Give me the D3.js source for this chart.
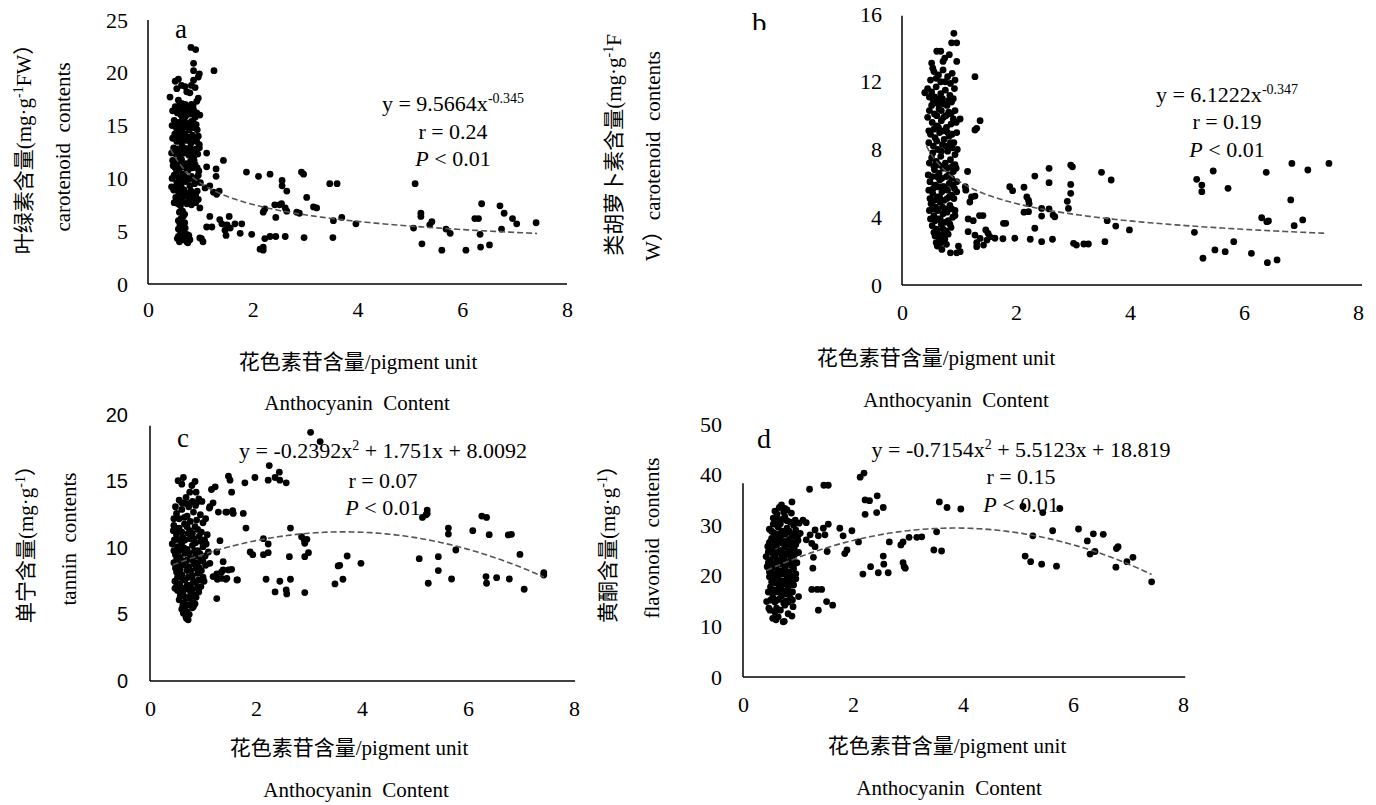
<!DOCTYPE html>
<html><head><meta charset="utf-8">
<script src="https://cdn.jsdelivr.net/npm/d3@7"></script>
<style>
html,body{margin:0;padding:0;background:#fff;}
svg{display:block;}
</style></head>
<body>
<svg id="chart" width="1376" height="805"></svg>
<script>
// ---------------- DATA ----------------
const xTickValues = [0, 2, 4, 6, 8];
const yTicksA = [0, 5, 10, 15, 20, 25];
const yTicksB = [0, 4, 8, 12, 16];
const yTicksC = [0, 5, 10, 15, 20];
const yTicksD = [0, 10, 20, 30, 40, 50];

// panel a: anthocyanin (x) vs chlorophyll/carotenoid (y)
const pointsA = [
[0.52,16.8],[0.60,16.9],[0.68,16.6],[0.77,16.8],[0.56,16.2],[0.63,16.0],[0.72,15.9],[0.81,16.1],[0.90,15.8],
[0.50,15.5],[0.58,15.3],[0.66,15.6],[0.74,15.2],[0.83,15.4],[0.92,15.1],[0.54,14.8],[0.62,14.7],[0.70,14.9],[0.79,14.6],[0.88,14.8],
[0.51,14.2],[0.59,14.0],[0.67,14.3],[0.76,13.9],[0.85,14.1],[0.96,14.0],[0.55,13.5],[0.64,13.4],[0.73,13.6],[0.82,13.3],[0.93,13.5],
[0.49,12.9],[0.57,12.8],[0.65,13.0],[0.71,12.6],[0.80,12.9],[0.89,12.7],[0.98,12.9],[0.53,12.3],[0.61,12.1],[0.69,12.4],[0.78,12.2],[0.87,12.0],[0.95,12.3],
[0.47,11.7],[0.56,11.6],[0.64,11.8],[0.72,11.4],[0.81,11.6],[0.90,11.3],[0.52,11.0],[0.60,10.9],[0.68,11.1],[0.77,10.8],[0.86,11.0],[0.97,10.7],
[0.50,10.3],[0.58,10.1],[0.66,10.4],[0.74,10.0],[0.83,10.2],[0.92,9.9],[0.55,9.6],[0.63,9.4],[0.71,9.7],[0.80,9.3],[0.89,9.5],[1.00,9.6],
[0.49,8.9],[0.57,8.8],[0.65,9.0],[0.73,8.6],[0.82,8.8],[0.91,8.5],[0.53,8.2],[0.61,8.0],[0.69,8.3],[0.78,7.9],[0.87,8.1],[0.96,8.0],
[0.62,7.4],[0.66,6.9],[0.63,6.2],[0.70,5.8],[0.58,5.2],[0.68,4.9],[0.74,4.7],
[0.56,4.3],[0.60,4.0],[0.66,4.2],[0.72,4.4],[0.76,3.9],[0.63,4.6],[0.80,4.2],
[0.47,16.4],[0.55,16.5],[0.64,16.4],[0.72,16.3],[0.80,16.5],[0.86,16.9],
[0.46,15.0],[0.54,15.1],[0.62,15.2],[0.70,15.4],[0.78,15.0],[0.86,15.3],[0.94,14.6],
[0.47,13.8],[0.55,14.4],[0.63,13.8],[0.71,14.2],[0.80,13.8],[0.89,13.6],[0.98,13.2],
[0.45,12.4],[0.53,12.6],[0.61,12.5],[0.69,12.9],[0.75,12.6],[0.84,12.5],[0.92,12.8],
[0.48,11.2],[0.56,11.3],[0.64,11.2],[0.72,11.0],[0.79,11.2],[0.88,11.7],[0.94,11.0],
[0.46,10.0],[0.54,10.5],[0.62,9.9],[0.70,10.2],[0.78,9.9],[0.87,10.0],[0.96,10.3],
[0.45,9.2],[0.53,9.2],[0.61,8.6],[0.69,8.9],[0.77,8.4],[0.85,8.5],[0.94,8.8],
[0.50,7.7],[0.57,7.6],[0.66,7.8],[0.74,7.6],[0.83,7.5],[0.91,7.7],
[0.60,6.8],[0.70,6.6],[0.58,6.0],[0.67,5.6],[0.62,5.0],[0.70,4.3],[0.78,4.6],
[0.82,22.4],[0.91,22.2],[0.87,20.9],[0.87,20.2],[0.98,19.9],[0.96,19.6],[0.87,19.3],[0.83,18.8],[0.90,18.6],
[0.58,19.4],[0.52,19.2],[0.55,18.5],[0.64,18.8],[0.71,18.7],[0.74,18.2],[0.80,18.1],[0.42,17.7],[0.96,17.6],[0.93,17.3],
[0.58,17.4],[0.64,17.1],[0.71,17.0],[0.83,17.0],[0.61,16.5],[0.74,16.3],[0.87,16.5],[0.93,16.2],[0.99,16.0],
[1.12,12.4],[1.09,9.1],[1.25,8.7],[0.99,7.2],[0.67,6.4],[0.61,5.6],[0.71,5.3],[0.64,4.5],[0.74,4.0],[1.02,4.3],[0.58,4.5],
[1.26,20.2],[1.44,11.7],[1.30,10.9],[1.30,10.2],[1.18,9.3],[1.36,8.8],[1.31,8.5],[1.12,11.1],[0.99,4.36],[1.05,4.0],
[1.18,6.4],[1.12,5.4],[1.22,5.4],[1.37,6.1],[1.41,5.7],[1.55,6.4],[1.47,5.1],[1.51,5.6],[1.57,5.3],[1.66,5.7],[1.79,5.7],[1.76,4.8],[1.49,4.6],[1.98,4.7],
[1.88,10.6],[2.11,10.2],[2.33,10.4],[2.56,9.8],[2.56,9.3],[2.65,8.8],[2.93,10.6],[2.97,10.4],[3.03,8.2],[3.16,7.3],[3.22,7.2],[3.47,9.5],[3.61,9.5],
[2.42,7.5],[2.51,7.5],[2.55,7.6],[2.62,7.2],[2.65,6.9],[2.23,7.1],[2.20,6.8],[2.44,6.3],[2.84,6.8],[2.89,6.7],[3.54,6.0],[3.70,6.3],[3.97,5.7],
[2.14,3.3],[2.20,3.2],[2.20,3.5],[2.23,4.3],[2.33,4.5],[2.44,4.5],[2.62,4.5],[2.98,4.4],[3.53,4.4],
[5.10,9.5],[5.21,6.7],[5.21,6.4],[5.07,5.3],[5.23,3.8],[5.42,5.9],[5.38,5.6],[5.61,3.2],[5.69,5.2],[5.77,4.8],[6.07,3.2],
[6.24,6.2],[6.31,6.2],[6.37,7.6],[6.34,4.7],[6.35,3.5],[6.52,3.7],[6.72,7.4],[6.80,6.7],[6.96,6.2],[7.04,5.7],[6.75,5.2],[7.41,5.8]
];

// panel b: anthocyanin (x) vs carotenoid (y)
const pointsB = [
[0.56,12.6],[0.64,12.4],[0.72,12.7],[0.80,12.3],[0.88,12.5],[0.93,12.1],
[0.45,11.6],[0.52,11.4],[0.60,11.7],[0.68,11.3],[0.76,11.5],[0.84,11.2],[0.92,11.6],[0.55,10.9],[0.63,10.7],[0.71,11.0],[0.79,10.6],[0.87,10.8],
[0.48,10.3],[0.57,10.1],[0.65,10.4],[0.73,9.9],[0.82,10.2],[0.90,9.8],[0.53,9.6],[0.61,9.4],[0.69,9.7],[0.78,9.3],[0.86,9.5],[0.95,9.6],
[0.50,8.9],[0.58,8.7],[0.66,9.0],[0.74,8.6],[0.83,8.8],[0.91,8.4],[0.55,8.2],[0.63,8.0],[0.71,8.3],[0.80,7.9],[0.88,8.1],[0.97,8.0],
[0.52,7.5],[0.60,7.3],[0.68,7.6],[0.76,7.2],[0.85,7.4],[0.93,7.1],[0.57,6.8],[0.65,6.6],[0.73,6.9],[0.82,6.5],[0.90,6.7],
[0.49,6.1],[0.58,5.9],[0.66,6.2],[0.74,5.8],[0.83,6.0],[0.92,5.7],[0.54,5.4],[0.62,5.2],[0.70,5.5],[0.79,5.1],[0.87,5.3],[0.96,5.5],
[0.51,4.8],[0.59,4.6],[0.67,4.9],[0.75,4.5],[0.84,4.7],[0.93,4.4],[0.56,4.1],[0.64,3.9],[0.72,4.2],[0.81,3.8],[0.89,4.0],
[0.53,3.5],[0.61,3.3],[0.69,3.6],[0.77,3.2],[0.86,3.4],[0.58,2.9],[0.66,2.7],[0.74,3.0],[0.62,2.3],[0.70,2.1],[0.78,2.4],
[0.50,12.1],[0.60,12.2],[0.68,12.0],[0.76,12.0],[0.85,11.9],
[0.48,11.1],[0.57,11.1],[0.65,11.0],[0.73,10.7],[0.82,10.9],[0.90,11.0],
[0.45,9.9],[0.52,10.6],[0.61,10.0],[0.69,10.3],[0.77,10.0],[0.86,10.1],[0.93,10.3],
[0.47,9.1],[0.56,9.2],[0.64,9.3],[0.72,9.1],[0.80,9.0],[0.88,8.9],[0.96,9.0],
[0.47,8.4],[0.54,7.8],[0.61,8.5],[0.69,7.9],[0.77,8.2],[0.85,8.4],[0.93,7.7],
[0.48,7.2],[0.56,7.0],[0.64,7.1],[0.71,7.0],[0.79,6.9],[0.88,7.0],[0.95,6.9],
[0.46,6.5],[0.53,6.4],[0.61,6.4],[0.70,6.3],[0.78,6.4],[0.87,6.3],[0.96,6.1],
[0.47,5.6],[0.55,5.7],[0.63,5.8],[0.71,5.8],[0.80,5.6],[0.89,5.9],
[0.49,5.1],[0.57,5.0],[0.66,5.2],[0.74,5.0],[0.83,5.2],[0.91,5.1],
[0.48,4.4],[0.55,4.5],[0.63,4.4],[0.71,4.6],[0.79,4.3],[0.87,4.5],
[0.50,3.9],[0.58,3.8],[0.67,3.9],[0.75,3.7],[0.84,3.6],
[0.56,3.1],[0.64,3.0],[0.72,3.3],[0.81,3.0],[0.60,2.5],[0.68,2.5],[0.75,2.7],
[0.91,14.86],[0.87,14.3],[0.96,14.3],[0.61,13.8],[0.68,13.8],[0.83,13.6],[0.75,13.4],[0.72,13.2],[0.96,13.2],[0.52,13.1],[0.54,12.8],
[1.28,12.3],[0.40,11.35],[1.37,9.7],[1.31,9.25],[1.28,9.15],[1.02,9.8],[1.15,6.7],[1.11,5.8],[1.12,5.6],[1.22,5.2],[1.19,4.9],[1.28,5.25],
[0.93,4.1],[0.85,1.9],[0.99,2.3],[1.02,1.97],[0.96,1.9],[1.16,3.9],[1.25,3.8],[1.36,4.1],[1.42,4.1],
[1.16,3.15],[1.28,2.95],[1.37,2.75],[1.47,3.25],[1.51,3.05],[1.54,2.85],[1.49,2.65],[1.31,2.26],[1.43,2.36],[1.31,2.5],[1.63,2.76],
[1.78,3.64],[1.82,3.64],[1.77,2.73],[1.98,2.76],[2.25,2.7],[2.45,2.56],[2.64,2.7],
[1.89,5.8],[1.94,5.57],[2.14,5.77],[2.19,5.2],[2.22,5.0],[2.23,4.8],[2.14,4.3],[2.22,4.33],
[2.33,6.43],[2.58,6.89],[2.58,6.04],[2.96,7.08],[2.99,6.98],[2.96,5.94],[2.96,5.41],[2.90,4.94],[2.92,4.52],[2.45,4.52],[2.45,4.07],[2.58,4.49],[2.65,4.13],[2.68,4.03],[2.33,3.35],
[3.01,2.46],[3.06,2.36],[3.19,2.42],[3.27,2.42],[3.56,2.56],[3.50,6.65],[3.67,6.2],[3.60,3.8],[3.75,3.48],[3.99,3.25],
[5.13,3.11],[5.17,6.24],[5.26,5.9],[5.26,5.51],[5.28,1.58],[5.46,6.73],[5.49,2.07],[5.67,1.97],[5.72,5.71],[5.82,2.56],[6.13,1.87],
[6.31,3.97],[6.39,6.65],[6.40,3.74],[6.43,3.78],[6.41,1.32],[6.58,1.48],[6.82,5.02],[6.84,7.18],[6.88,3.5],[7.03,3.84],[7.12,6.79],[7.49,7.18]
];

// panel c: anthocyanin (x) vs tannin (y)
const pointsC = [
[0.55,13.6],[0.68,13.8],[0.80,13.5],[0.92,13.7],
[0.50,12.6],[0.60,12.9],[0.70,12.4],[0.82,12.7],[0.95,12.5],[1.05,12.2],
[0.45,11.7],[0.55,11.5],[0.65,11.8],[0.75,11.3],[0.85,11.6],[0.97,11.2],[0.50,11.0],[0.62,10.8],[0.72,11.1],[0.83,10.7],[0.93,10.9],[1.03,10.6],
[0.42,10.3],[0.52,10.1],[0.60,10.4],[0.70,9.9],[0.80,10.2],[0.90,9.8],[1.00,10.1],[1.10,9.7],[0.48,9.5],[0.57,9.3],[0.66,9.6],[0.76,9.2],[0.86,9.4],[0.96,9.1],
[0.45,8.9],[0.54,8.7],[0.63,9.0],[0.73,8.6],[0.83,8.8],[0.93,8.5],[1.05,8.7],[0.50,8.2],[0.60,8.0],[0.70,8.3],[0.80,7.9],[0.90,8.1],[1.00,7.8],
[0.47,7.5],[0.56,7.3],[0.66,7.6],[0.76,7.2],[0.86,7.4],[0.96,7.1],[0.52,6.8],[0.62,6.6],[0.72,6.9],[0.82,6.5],[0.92,6.7],
[0.55,6.1],[0.65,5.9],[0.75,6.2],[0.85,5.8],[0.60,5.4],[0.70,5.2],[0.80,5.5],[0.68,4.8],[0.74,5.0],
[0.48,13.1],[0.60,13.4],[0.73,13.1],[0.86,13.2],
[0.45,12.2],[0.55,12.2],[0.65,12.3],[0.76,12.0],[0.88,12.1],[1.00,11.9],
[0.44,11.3],[0.52,11.4],[0.60,11.2],[0.70,11.6],[0.80,11.1],[0.90,11.4],[1.08,11.0],
[0.46,10.6],[0.56,10.6],[0.66,10.6],[0.76,10.7],[0.86,10.4],[0.96,10.5],[1.06,10.3],
[0.45,9.8],[0.55,9.8],[0.64,10.0],[0.74,9.6],[0.84,9.8],[0.94,9.6],[1.04,9.4],
[0.50,9.1],[0.60,8.8],[0.70,9.1],[0.80,9.1],[0.90,8.9],[1.00,9.0],
[0.48,8.5],[0.57,8.4],[0.67,8.7],[0.77,8.3],[0.87,8.5],[0.97,8.3],
[0.52,7.8],[0.62,7.6],[0.72,7.8],[0.82,7.5],[0.92,7.6],[1.02,7.5],
[0.50,7.1],[0.60,7.0],[0.70,7.2],[0.80,6.9],[0.90,7.0],
[0.57,6.4],[0.67,6.3],[0.77,6.6],[0.87,6.3],[0.62,5.7],[0.72,5.7],[0.82,5.9],[0.66,5.3],[0.72,4.6],
[0.53,15.06],[0.63,15.3],[0.60,14.8],[0.75,14.2],[0.85,15.0],[0.87,14.2],[0.79,14.7],
[0.66,13.36],[0.75,13.36],[0.88,13.4],[0.98,13.5],[1.12,13.0],[1.19,13.4],[1.45,12.7],
[0.47,6.97],[0.60,6.47],[0.63,5.09],[0.69,4.7],[0.82,5.6],[1.45,7.72],[1.54,8.4],[1.38,8.35],[1.35,7.72],[1.64,7.6],[1.19,7.85],[1.13,8.85],
[3.03,18.7],[3.21,18.0],[2.25,16.2],[2.44,15.7],[2.23,15.1],[2.36,15.3],[2.45,15.1],[2.57,14.9],[1.98,15.3],[1.79,14.9],
[1.48,15.4],[1.51,15.1],[1.54,14.2],[1.16,14.4],[1.23,14.6],
[1.13,13.1],[1.29,12.7],[1.43,12.7],[1.56,12.8],[1.57,12.6],[1.76,12.6],[1.81,11.5],[2.65,11.5],
[2.86,10.85],[2.91,10.6],[2.96,10.65],[2.92,10.35],[2.99,9.65],[2.92,9.35],[2.14,10.7],[2.23,10.3],[2.23,9.65],[2.14,9.5],[1.89,9.7],[1.94,9.5],
[1.32,10.55],[1.26,9.7],[1.38,8.97],[1.26,8.05],[1.35,8.2],[1.48,8.35],[1.43,7.65],[1.65,7.6],[1.27,7.65],[1.26,6.2],
[2.19,7.65],[2.45,7.5],[2.65,7.65],[2.36,6.7],[2.57,6.85],[2.58,6.55],[2.92,6.65],[2.63,9.35],
[3.49,7.3],[3.64,7.65],[3.55,8.65],[3.58,8.7],[3.72,9.4],[3.98,8.85],
[5.08,9.2],[5.14,12.3],[5.21,12.5],[5.23,12.85],[5.23,12.6],[5.25,7.35],[5.44,9.35],[5.44,8.3],[5.63,11.5],[5.63,11.05],[5.77,9.85],[5.69,7.67],
[6.09,11.3],[6.26,12.4],[6.35,12.3],[6.40,11.0],[6.34,7.85],[6.35,7.35],[6.54,7.77],[6.78,7.67],[6.76,10.98],[6.82,11.03],[6.98,9.52],[7.06,6.9],[7.43,8.15],[7.43,7.97]
];

// panel d: anthocyanin (x) vs flavonoid (y)
const pointsD = [
[0.58,32.8],[0.66,33.5],[0.80,33.0],[0.64,30.8],[0.72,31.2],[0.86,30.6],[0.95,31.0],
[0.48,29.2],[0.56,28.5],[0.64,29.6],[0.72,28.8],[0.80,29.4],[0.88,28.2],[0.96,29.0],[1.04,28.4],[0.52,27.4],[0.60,27.0],[0.68,27.6],[0.76,26.8],[0.84,27.2],[0.92,26.6],[1.00,27.0],
[0.45,25.8],[0.53,25.2],[0.61,26.0],[0.69,25.0],[0.77,25.6],[0.85,24.8],[0.93,25.4],[1.01,24.6],[0.42,23.8],[0.50,23.2],[0.58,24.0],[0.66,23.0],[0.74,23.6],[0.82,22.8],[0.90,23.4],[0.98,22.6],
[0.44,21.8],[0.52,21.2],[0.60,22.0],[0.68,21.0],[0.76,21.6],[0.84,20.8],[0.92,21.4],[0.48,19.8],[0.56,19.2],[0.64,20.0],[0.72,19.0],[0.80,19.6],[0.88,18.8],[0.96,19.4],
[0.50,17.8],[0.58,17.2],[0.66,18.0],[0.74,17.0],[0.82,17.6],[0.90,16.8],[0.54,15.8],[0.62,15.2],[0.70,16.0],[0.78,15.0],[0.86,15.6],
[0.47,13.6],[0.58,12.8],[0.68,13.2],[0.82,12.5],[0.60,11.3],[0.75,11.0],
[0.62,32.2],[0.74,32.6],[0.88,32.4],[0.55,30.2],[0.68,30.3],[0.80,30.9],[0.92,30.0],[1.02,30.4],
[0.52,28.8],[0.60,28.2],[0.68,28.4],[0.76,28.2],[0.84,28.8],[0.92,27.9],[1.00,28.0],
[0.48,26.6],[0.56,26.4],[0.64,26.8],[0.72,26.4],[0.80,26.2],[0.88,26.0],[0.96,26.2],
[0.46,24.7],[0.54,24.4],[0.62,24.6],[0.70,24.2],[0.78,24.4],[0.86,23.9],[0.94,24.2],
[0.46,22.6],[0.54,22.4],[0.62,23.2],[0.70,22.4],[0.78,22.8],[0.86,22.2],[0.94,22.4],
[0.48,20.8],[0.56,20.4],[0.64,21.0],[0.72,20.4],[0.80,20.6],[0.88,20.0],[0.96,20.4],
[0.52,18.8],[0.60,18.6],[0.68,19.0],[0.76,18.4],[0.84,18.8],[0.92,18.2],
[0.46,16.8],[0.54,16.6],[0.62,16.8],[0.70,17.2],[0.78,16.4],[0.86,16.8],
[0.50,15.2],[0.58,14.8],[0.66,15.4],[0.74,14.6],[0.82,14.8],[0.90,15.2],
[0.43,14.9],[0.49,13.2],[0.54,11.6],[0.64,11.9],[0.73,10.9],[0.89,12.05],[0.61,13.6],[0.76,14.2],[0.91,13.9],[1.01,15.9],
[0.70,34.0],[0.76,33.3],[0.89,34.6],[0.55,31.4],[0.61,31.7],[0.76,31.7],
[2.13,39.5],[2.20,40.3],[1.21,37.1],[1.47,37.9],[1.55,37.9],[2.22,35.0],[2.30,34.85],[2.44,35.8],[2.22,32.15],[2.43,32.5],[2.55,33.5],
[3.57,34.6],[3.71,33.5],[3.96,33.2],[5.09,33.7],[5.45,32.5],[5.76,33.3],
[1.09,31.0],[1.15,30.5],[1.46,29.4],[1.55,30.2],[1.31,29.05],[1.37,27.9],[1.49,28.1],[1.22,28.1],[1.76,29.4],[1.82,27.9],[1.98,28.9],[1.89,25.1],[1.85,24.4],[2.10,26.7],[1.53,24.8],[1.28,23.65],[1.15,27.1],[1.25,26.4],[1.31,25.75],
[2.66,26.7],[2.87,26.1],[2.91,26.7],[3.02,27.6],[3.16,27.6],[3.25,27.7],[3.52,28.7],[3.47,25.1],[3.61,24.9],
[2.55,23.9],[2.56,22.3],[2.46,20.6],[2.64,20.6],[2.32,21.8],[2.18,20.35],[2.91,22.6],[2.93,21.8],[2.95,21.5],
[1.27,21.5],[1.25,17.3],[1.35,17.3],[1.43,17.3],[1.37,13.2],[1.52,14.9],[1.63,14.2],
[5.13,23.9],[5.23,22.8],[5.43,22.3],[5.70,21.9],[5.27,27.9],[5.63,28.9],[6.10,29.25],[6.26,26.9],[6.37,28.3],[6.55,28.2],[6.31,24.3],[6.40,24.8],[6.79,25.4],[6.82,25.75],[6.78,21.7],[6.98,22.8],[7.09,23.65],[7.43,18.8]
];

// fitted equations shown on the chart
const fitA = {type: "power", a: 9.5664, b: -0.345};
const fitB = {type: "power", a: 6.1222, b: -0.347};
const fitC = {type: "quad", a: -0.2392, b: 1.751, c: 8.0092};
const fitD = {type: "quad", a: -0.7154, b: 5.5123, c: 18.819};
const fitRange = [0.43, 7.43];

// ---------------- DRAW ----------------
const SERIF = "'Liberation Serif','Times New Roman','Noto Sans CJK SC',serif";
const SANS = "'Liberation Sans','Noto Sans',sans-serif";
const svg = d3.select("#chart");

svg.append("defs").append("clipPath").attr("id","clipB")
  .append("rect").attr("x",700).attr("y",0).attr("width",200).attr("height",30);

function fitFn(f){
  if (f.type === "power") return x => f.a * Math.pow(x, f.b);
  return x => f.a * x * x + f.b * x + f.c;
}

function richText(sel, parts, supSize){
  let pending = 0;
  parts.forEach(p => {
    const ts = sel.append("tspan").text(p.t);
    if (p.sup) { ts.attr("dy", -8 - pending).style("font-size", supSize + "px"); pending = -8; }
    else if (pending !== 0) { ts.attr("dy", -pending); pending = 0; }
  });
}

function panel(cfg){
  const x = d3.scaleLinear().domain([0, 8]).range([cfg.x0, cfg.x8]);
  const y = d3.scaleLinear().domain([0, cfg.yMax]).range([cfg.y0, cfg.yTop]);
  const g = svg.append("g");

  const ya = d3.axisLeft(y).tickValues(cfg.yTicks).tickSize(0).tickPadding(cfg.yPad).tickFormat(d3.format("d"));
  const yg = g.append("g").attr("transform", `translate(${cfg.x0},0)`).call(ya)
    .attr("font-family", cfg.yFont).attr("font-size", cfg.yFontSize);
  yg.select(".domain").remove();
  yg.selectAll("text").style("font-family", cfg.yFont).style("font-size", cfg.yFontSize + "px").attr("fill","#000");

  const xa = d3.axisBottom(x).tickValues(xTickValues).tickSize(0).tickPadding(cfg.xPad).tickFormat(d3.format("d"));
  const xg = g.append("g").attr("transform", `translate(0,${cfg.y0})`).call(xa)
    .attr("font-family", SERIF).attr("font-size", 22);
  xg.select(".domain").remove();
  xg.selectAll("text").style("font-family", SERIF).style("font-size", "22px").attr("fill","#000");

  g.append("line").attr("x1", cfg.x0).attr("x2", cfg.x0).attr("y1", y(0)).attr("y2", y(cfg.axisTopVal))
    .attr("stroke","#000").attr("stroke-width",1.5);
  g.append("line").attr("x1", cfg.x0).attr("x2", x(cfg.axisRightVal)).attr("y1", y(0)).attr("y2", y(0))
    .attr("stroke","#000").attr("stroke-width",1.5);

  g.append("g").selectAll("circle").data(cfg.points).join("circle")
    .attr("cx", d => x(d[0])).attr("cy", d => y(d[1])).attr("r", 3.4).attr("fill","#000");

  const fn = fitFn(cfg.fit);
  const xs = d3.range(0, 121).map(i => fitRange[0] + (fitRange[1]-fitRange[0]) * i / 120);
  const line = d3.line().x(d => x(d)).y(d => y(fn(d)));
  g.append("path").attr("d", line(xs)).attr("fill","none").attr("stroke","#555")
    .attr("stroke-width",1.6).attr("stroke-dasharray","6,3");

  const letter = g.append("text").attr("x", cfg.letter[0]).attr("y", cfg.letter[1])
    .style("font-family", SERIF).style("font-size", cfg.letter[2] + "px").text(cfg.letterText);
  if (cfg.letterClip) letter.attr("clip-path", "url(#clipB)");

  const eq = g.append("text").attr("x", cfg.eqX).attr("y", cfg.eqY[0]).attr("text-anchor","middle")
    .style("font-family", SERIF).style("font-size", "22px");
  richText(eq, cfg.eqParts, 14);
  g.append("text").attr("x", cfg.eqX).attr("y", cfg.eqY[1]).attr("text-anchor","middle")
    .style("font-family", SERIF).style("font-size", "22px").text(cfg.rText);
  const pt = g.append("text").attr("x", cfg.eqX).attr("y", cfg.eqY[2]).attr("text-anchor","middle")
    .style("font-family", SERIF).style("font-size", "22px");
  pt.append("tspan").attr("font-style","italic").text("P");
  pt.append("tspan").text(" < 0.01");

  g.append("text").attr("x", cfg.xt[0]).attr("y", cfg.xt[1]).attr("text-anchor","middle")
    .style("font-family", SERIF).style("font-size", "21px").text("花色素苷含量/pigment unit");
  g.append("text").attr("x", cfg.xt2[0]).attr("y", cfg.xt2[1]).attr("text-anchor","middle")
    .style("font-family", SERIF).style("font-size", "21px").style("white-space","pre").text("Anthocyanin  Content");

  cfg.ytitles.forEach(t => {
    const tx = g.append("text").attr("transform", `translate(${t.x},${t.y}) rotate(-90)`)
      .attr("text-anchor","middle").style("font-family", SERIF).style("font-size", "21px")
      .style("white-space","pre");
    richText(tx, t.parts, 14);
  });
}

panel({
  x0:148, x8:567, y0:284, yTop:20, yMax:25, yTicks:yTicksA, axisTopVal:25, axisRightVal:8,
  yPad:20, xPad:17, yFont:SERIF, yFontSize:22,
  points:pointsA, fit:fitA,
  letter:[175,38,27], letterText:"a",
  eqX:453, eqY:[111,139,166],
  eqParts:[{t:"y = 9.5664x"},{t:"-0.345",sup:true}], rText:"r = 0.24",
  xt:[358,369], xt2:[357,410],
  ytitles:[
    {x:31, y:144, parts:[{t:"叶绿素含量(mg·g"},{t:"-1",sup:true},{t:"FW）"}]},
    {x:70, y:147, parts:[{t:"carotenoid  contents"}]}
  ]
});

panel({
  x0:902, x8:1358, y0:285, yTop:14, yMax:16, yTicks:yTicksB, axisTopVal:15.9, axisRightVal:8.07,
  yPad:20, xPad:19, yFont:SERIF, yFontSize:22,
  points:pointsB, fit:fitB,
  letter:[752,33,29], letterText:"b", letterClip:true,
  eqX:1227, eqY:[102,129,157],
  eqParts:[{t:"y = 6.1222x"},{t:"-0.347",sup:true}], rText:"r = 0.19",
  xt:[936,365], xt2:[956,407],
  ytitles:[
    {x:621, y:145, parts:[{t:"类胡萝卜素含量(mg·g"},{t:"-1",sup:true},{t:"F"}]},
    {x:660, y:156, parts:[{t:"W）carotenoid  contents"}]}
  ]
});

panel({
  x0:150, x8:574, y0:681, yTop:415, yMax:20, yTicks:yTicksC, axisTopVal:19.2, axisRightVal:8.02,
  yPad:22, xPad:19, yFont:SANS, yFontSize:20,
  points:pointsC, fit:fitC,
  letter:[177,447,27], letterText:"c",
  eqX:383, eqY:[458,488,515],
  eqParts:[{t:"y = -0.2392x"},{t:"2",sup:true},{t:" + 1.751x + 8.0092"}], rText:"r = 0.07",
  xt:[349,755], xt2:[356,797],
  ytitles:[
    {x:33, y:539, parts:[{t:"单宁含量(mg·g"},{t:"-1",sup:true},{t:"）"}]},
    {x:76, y:539, parts:[{t:"tannin  contents"}]}
  ]
});

panel({
  x0:743, x8:1183, y0:677, yTop:424, yMax:50, yTicks:yTicksD, axisTopVal:38.3, axisRightVal:8.04,
  yPad:21, xPad:19, yFont:SERIF, yFontSize:22,
  points:pointsD, fit:fitD,
  letter:[757,448,28], letterText:"d",
  eqX:1021, eqY:[457,484,512],
  eqParts:[{t:"y = -0.7154x"},{t:"2",sup:true},{t:" + 5.5123x + 18.819"}], rText:"r = 0.15",
  xt:[947,753], xt2:[949,795],
  ytitles:[
    {x:615, y:539, parts:[{t:"黄酮含量(mg·g"},{t:"-1",sup:true},{t:"）"}]},
    {x:659, y:538, parts:[{t:"flavonoid  contents"}]}
  ]
});
</script>
</body></html>
